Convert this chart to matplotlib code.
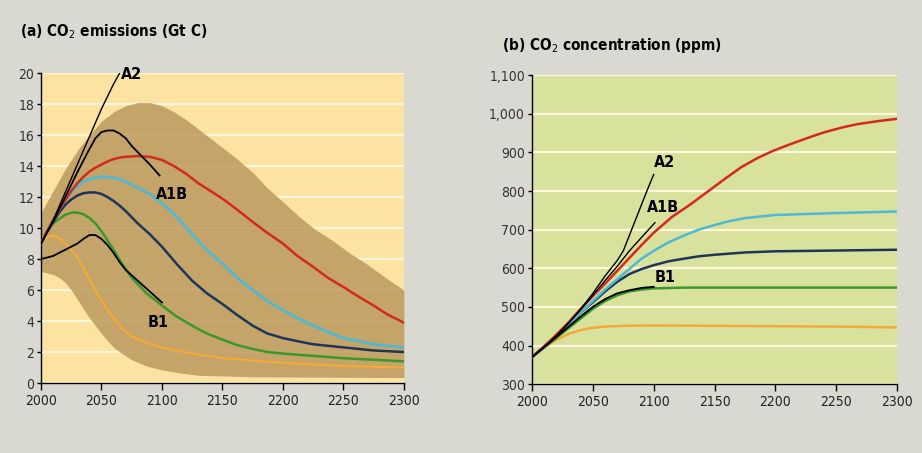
import numpy as np
import matplotlib
matplotlib.use('Agg')
import matplotlib.pyplot as plt

# 좁은 글꼴 (DejaVu Sans Condensed)
plt.rcParams['font.family'] = ['DejaVu Sans']
plt.rcParams['font.stretch'] = 'condensed'

# (a) 배출량 (Gt C) - 그림에서 읽은 값
band_up_yr = [2000, 2010, 2020, 2030, 2040, 2050, 2060, 2070, 2080, 2090, 2100, 2110, 2120, 2130, 2140, 2150, 2160, 2175, 2187, 2200, 2214, 2227, 2241, 2255, 2269, 2285, 2300]
band_up = [11.0, 12.4, 13.8, 15.0, 16.0, 16.9, 17.5, 17.9, 18.1, 18.1, 17.9, 17.5, 17.0, 16.4, 15.8, 15.2, 14.6, 13.6, 12.6, 11.7, 10.7, 9.9, 9.2, 8.4, 7.7, 6.8, 6.0]
band_lo_yr = [2000, 2010, 2015, 2020, 2025, 2030, 2035, 2040, 2046, 2053, 2060, 2067, 2075, 2087, 2100, 2115, 2130, 2175, 2300]
band_lo = [7.2, 7.0, 6.8, 6.5, 6.0, 5.4, 4.8, 4.2, 3.6, 2.9, 2.3, 1.9, 1.5, 1.1, 0.85, 0.65, 0.5, 0.4, 0.35]

red_yr = [2000, 2005, 2010, 2015, 2020, 2025, 2030, 2035, 2040, 2045, 2050, 2055, 2060, 2065, 2070, 2080, 2090, 2100, 2110, 2120, 2130, 2140, 2150, 2162, 2175, 2187, 2200, 2212, 2225, 2237, 2250, 2262, 2275, 2287, 2300]
red_em = [9.0, 9.8, 10.5, 11.2, 11.8, 12.4, 12.9, 13.3, 13.65, 13.9, 14.1, 14.3, 14.45, 14.55, 14.6, 14.65, 14.6, 14.4, 14.0, 13.5, 12.9, 12.4, 11.9, 11.2, 10.4, 9.7, 9.0, 8.2, 7.5, 6.8, 6.2, 5.6, 5.0, 4.4, 3.9]
cyan_yr = [2000, 2005, 2010, 2015, 2020, 2025, 2030, 2035, 2040, 2045, 2050, 2055, 2060, 2065, 2070, 2075, 2080, 2090, 2100, 2110, 2125, 2137, 2150, 2162, 2175, 2187, 2200, 2212, 2225, 2237, 2250, 2275, 2300]
cyan_em = [9.0, 9.8, 10.5, 11.2, 11.8, 12.3, 12.7, 13.0, 13.15, 13.25, 13.3, 13.3, 13.25, 13.15, 13.0, 12.8, 12.6, 12.2, 11.6, 10.9, 9.6, 8.6, 7.7, 6.8, 6.0, 5.3, 4.7, 4.2, 3.7, 3.3, 2.9, 2.5, 2.3]
navy_yr = [2000, 2005, 2010, 2015, 2020, 2025, 2030, 2035, 2040, 2045, 2050, 2055, 2060, 2065, 2070, 2080, 2090, 2100, 2112, 2125, 2137, 2150, 2162, 2175, 2187, 2200, 2212, 2225, 2250, 2275, 2300]
navy_em = [9.0, 9.8, 10.4, 11.0, 11.5, 11.85, 12.1, 12.25, 12.3, 12.3, 12.2, 12.0, 11.75, 11.45, 11.1, 10.3, 9.6, 8.8, 7.7, 6.6, 5.8, 5.1, 4.4, 3.7, 3.2, 2.9, 2.7, 2.5, 2.3, 2.1, 2.0]
green_yr = [2000, 2005, 2010, 2015, 2020, 2025, 2030, 2035, 2040, 2045, 2050, 2055, 2060, 2067, 2075, 2087, 2100, 2112, 2125, 2137, 2150, 2162, 2175, 2187, 2200, 2225, 2250, 2275, 2300]
green_em = [9.0, 9.8, 10.3, 10.6, 10.85, 11.0, 11.0, 10.9, 10.65, 10.3, 9.8, 9.2, 8.6, 7.7, 6.8, 5.8, 5.0, 4.3, 3.7, 3.2, 2.8, 2.45, 2.2, 2.0, 1.9, 1.75, 1.6, 1.5, 1.4]
orange_yr = [2000, 2004, 2008, 2012, 2016, 2020, 2025, 2030, 2035, 2040, 2045, 2050, 2055, 2060, 2067, 2075, 2087, 2100, 2112, 2125, 2150, 2175, 2200, 2250, 2300]
orange_em = [9.0, 9.35, 9.5, 9.5, 9.3, 9.0, 8.6, 8.1, 7.4, 6.7, 6.0, 5.3, 4.7, 4.2, 3.5, 3.0, 2.6, 2.3, 2.1, 1.9, 1.6, 1.45, 1.3, 1.1, 1.0]

a2_yr = [2000, 2010, 2020, 2030, 2040, 2050, 2060, 2065]
a2_em = [9.0, 10.5, 12.3, 14.1, 15.9, 17.7, 19.3, 20.0]
a1b_yr = [2000, 2010, 2020, 2030, 2040, 2045, 2050, 2055, 2060, 2065, 2070, 2075, 2080, 2085, 2090, 2098]
a1b_em = [9.0, 10.4, 12.0, 13.6, 15.1, 15.8, 16.2, 16.3, 16.3, 16.1, 15.8, 15.3, 14.9, 14.5, 14.1, 13.4]
b1_yr = [2000, 2005, 2010, 2015, 2020, 2025, 2030, 2035, 2040, 2045, 2050, 2055, 2060, 2065, 2070, 2075, 2080, 2090, 2100]
b1_em = [8.0, 8.1, 8.2, 8.4, 8.6, 8.8, 9.0, 9.3, 9.55, 9.55, 9.3, 8.9, 8.4, 7.8, 7.3, 6.95, 6.6, 5.9, 5.2]

# (b) 농도 (ppm)
orange_c_yr = [2000, 2010, 2020, 2030, 2040, 2050, 2060, 2075, 2100, 2150, 2200, 2250, 2300]
orange_c = [370, 395, 415, 430, 440, 446, 449, 451, 452, 451, 450, 449, 447]
green_c_yr = [2000, 2010, 2020, 2030, 2040, 2050, 2060, 2070, 2080, 2090, 2100, 2125, 2300]
green_c = [370, 395, 420, 445, 470, 495, 515, 530, 540, 545, 548, 550, 550]
navy_c_yr = [2000, 2010, 2020, 2030, 2040, 2050, 2060, 2070, 2080, 2090, 2100, 2112, 2125, 2137, 2150, 2175, 2200, 2250, 2300]
navy_c = [370, 397, 425, 455, 485, 512, 540, 565, 585, 598, 608, 618, 625, 631, 635, 641, 644, 646, 648]
cyan_c_yr = [2000, 2010, 2020, 2030, 2040, 2050, 2060, 2075, 2090, 2100, 2112, 2125, 2137, 2150, 2162, 2175, 2200, 2250, 2300]
cyan_c = [370, 397, 425, 455, 485, 515, 545, 585, 625, 645, 667, 685, 700, 712, 722, 730, 738, 743, 747]
red_c_yr = [2000, 2010, 2020, 2030, 2040, 2050, 2060, 2075, 2090, 2100, 2115, 2130, 2145, 2160, 2172, 2185, 2198, 2212, 2226, 2240, 2254, 2267, 2284, 2300]
red_c = [370, 398, 428, 460, 495, 528, 560, 610, 660, 692, 733, 765, 800, 835, 862, 885, 904, 921, 937, 952, 964, 973, 981, 987]

a2_c_yr = [2000, 2010, 2020, 2030, 2040, 2050, 2060, 2070, 2075, 2085, 2095, 2100]
a2_c = [370, 396, 425, 458, 494, 535, 580, 620, 645, 725, 805, 843]
a1b_c_yr = [2000, 2010, 2020, 2030, 2040, 2050, 2060, 2070, 2080, 2090, 2101]
a1b_c = [370, 396, 425, 458, 493, 530, 568, 605, 645, 680, 718]
b1_c_yr = [2000, 2020, 2040, 2050, 2060, 2070, 2080, 2090, 2100]
b1_c = [370, 422, 475, 500, 520, 535, 543, 549, 552]

em_ticks = list(range(0, 21, 2))
conc_ticks = list(range(300, 1101, 100))
conc_labels = ['300', '400', '500', '600', '700', '800', '900', '1,000', '1,100']
yr_ticks = list(range(2000, 2301, 50))

RED = '#d42a1c'
CYAN = '#4fb9d2'
NAVY = '#1d3657'
GREEN = '#3a982c'
ORANGE = '#f2aa38'

fig = plt.figure(figsize=(9.22, 4.53), dpi=100)
fig.patch.set_facecolor('#d9d9d1')

ax1 = fig.add_axes([0.0445, 0.1545, 0.3935, 0.684])
ax2 = fig.add_axes([0.577, 0.152, 0.396, 0.682])


def style(ax, bg):
    ax.set_facecolor(bg)
    ax.spines['top'].set_visible(False)
    ax.spines['right'].set_visible(False)
    ax.spines['left'].set_linewidth(1.0)
    ax.spines['bottom'].set_linewidth(1.0)
    ax.set_xlim(2000, 2300)
    ax.set_xticks(yr_ticks)
    ax.tick_params(axis='x', direction='out', length=5, width=1, labelsize=10, colors='black', labelcolor='#222222', pad=3)
    ax.tick_params(axis='y', direction='out', length=3, width=1, labelsize=10, labelcolor='#333333', pad=2)
    ax.yaxis.grid(True, color='#fff6dc', linewidth=1.6)
    ax.set_axisbelow(True)


style(ax1, '#fde3a2')
ax1.set_ylim(0, 20)
ax1.set_yticks(em_ticks)
# 음영 영역: 상한/하한 연도를 합쳐서 그림
band_yr = sorted(set(band_up_yr) | set(band_lo_yr))
ax1.fill_between(band_yr, np.interp(band_yr, band_lo_yr, band_lo), np.interp(band_yr, band_up_yr, band_up),
                 color='#bd9c62', alpha=0.88, linewidth=0, zorder=2)
ax1.plot(orange_yr, orange_em, color=ORANGE, lw=1.6, zorder=3)
ax1.plot(green_yr, green_em, color=GREEN, lw=1.8, zorder=3)
ax1.plot(navy_yr, navy_em, color=NAVY, lw=1.8, zorder=3)
ax1.plot(cyan_yr, cyan_em, color=CYAN, lw=2.0, zorder=3)
ax1.plot(red_yr, red_em, color=RED, lw=1.8, zorder=3)
ax1.plot(a2_yr, a2_em, color='black', lw=1.0, zorder=4)
ax1.plot(a1b_yr, a1b_em, color='black', lw=1.3, zorder=4)
ax1.plot(b1_yr, b1_em, color='black', lw=1.3, zorder=4)
ax1.text(2066, 19.9, 'A2', fontsize=11.5, fontweight='bold', va='center', ha='left', zorder=5)
ax1.text(2108, 12.2, 'A1B', fontsize=11.5, fontweight='bold', va='center', ha='center', zorder=5)
ax1.text(2097, 3.9, 'B1', fontsize=11.5, fontweight='bold', va='center', ha='center', zorder=5)
fig.text(0.022, 0.93, '(a) CO$_2$ emissions (Gt C)', fontsize=11, fontweight='bold', va='center')

style(ax2, '#d8e29c')
ax2.set_ylim(300, 1100)
ax2.set_yticks(conc_ticks)
ax2.set_yticklabels(conc_labels)
ax2.plot(orange_c_yr, orange_c, color=ORANGE, lw=1.8, zorder=3)
ax2.plot(green_c_yr, green_c, color=GREEN, lw=1.8, zorder=3)
ax2.plot(navy_c_yr, navy_c, color=NAVY, lw=1.8, zorder=3)
ax2.plot(cyan_c_yr, cyan_c, color=CYAN, lw=1.8, zorder=3)
ax2.plot(red_c_yr, red_c, color=RED, lw=1.8, zorder=3)
ax2.plot(a2_c_yr, a2_c, color='black', lw=1.0, zorder=4)
ax2.plot(a1b_c_yr, a1b_c, color='black', lw=1.0, zorder=4)
ax2.plot(b1_c_yr, b1_c, color='black', lw=1.4, zorder=4)
ax2.text(2109, 874, 'A2', fontsize=11.5, fontweight='bold', va='center', ha='center', zorder=5)
ax2.text(2108, 757, 'A1B', fontsize=11.5, fontweight='bold', va='center', ha='center', zorder=5)
ax2.text(2109, 577, 'B1', fontsize=11.5, fontweight='bold', va='center', ha='center', zorder=5)
fig.text(0.545, 0.9, '(b) CO$_2$ concentration (ppm)', fontsize=11, fontweight='bold', va='center')

fig.savefig('out.png', dpi=100, facecolor=fig.get_facecolor())
